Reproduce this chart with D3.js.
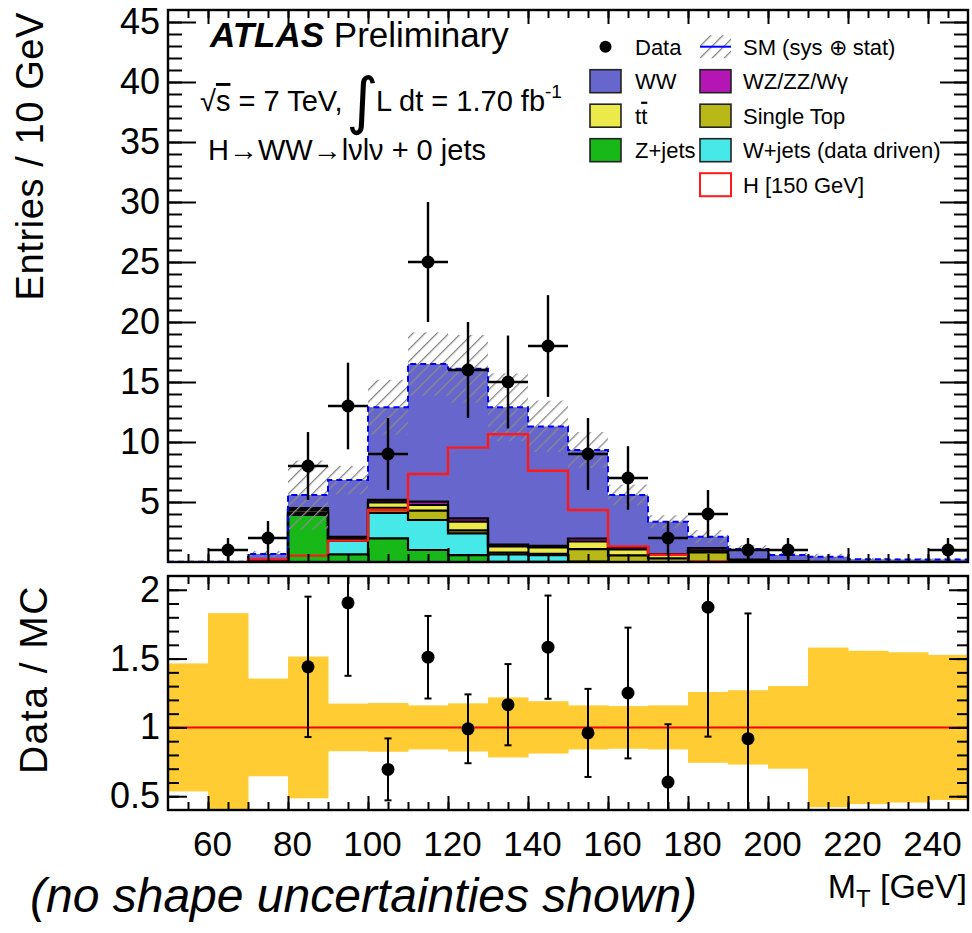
<!DOCTYPE html>
<html>
<head>
<meta charset="utf-8">
<script src="https://cdn.jsdelivr.net/npm/d3@7"></script>
<style>
  html, body { margin: 0; padding: 0; background: #fff; }
  svg { display: block; font-family: "Liberation Sans", Arial, Helvetica, sans-serif; }
</style>
</head>
<body>
<svg id="chart" width="972" height="933"></svg>
<script>
// ---- histogram content: 10 GeV bins in M_T ----
const binEdges   = [50,60,70,80,90,100,110,120,130,140,150,160,170,180,190,200,210,220,230,240,250];
const zJets      = [0,0,0.05,3.92,0.64,1.97,1.00,0.58,0.02,0.02,0,0,0,0,0,0,0,0,0,0];
const wJets      = [0,0,0,0.12,1.14,2.13,2.50,1.81,0.62,0.55,0.03,0,0,0,0,0,0,0,0,0];
const singleTop  = [0,0,0,0.10,0.05,0.42,0.78,0.25,0.15,0.10,1.05,0.55,0.30,0.80,0.10,0.02,0,0,0,0];
const ttbar      = [0,0,0,0.20,0.15,0.45,0.47,0.72,0.50,0.55,0.63,0.50,0.30,0.15,0.05,0.02,0,0,0,0];
const diboson    = [0,0,0,0.15,0.12,0.20,0.28,0.28,0.15,0.12,0.25,0.20,0.05,0.20,0.05,0.02,0.02,0,0,0];
const wwBkg      = [0.02,0.02,0.62,1.09,4.73,7.73,11.47,12.46,11.46,9.96,7.37,4.33,2.71,0.96,0.89,0.52,0.42,0.22,0.20,0.20];
const higgs150   = [0,0,0.22,0.53,1.78,4.33,7.33,9.53,10.64,7.61,4.33,1.30,0.60,0.05,0,0,0,0,0,0];
const smRelUnc   = [0.465,0.83,0.355,0.515,0.173,0.177,0.16,0.175,0.218,0.19,0.16,0.155,0.16,0.257,0.27,0.30,0.58,0.557,0.546,0.527];
const dataCounts = [0,1,2,8,13,9,25,16,15,18,9,7,2,4,1,1,0,0,0,1];
const dataErr    = [0,1,1.41,2.83,3.61,3,5,4,3.87,4.24,3,2.65,1.41,2,1,1,0,0,0,1];
const ratioVals  = [null,null,null,1.44,1.905,0.695,1.51,0.99,1.165,1.583,0.96,1.25,0.603,1.873,0.918,null,null,null,null,null];
const ratioErr   = [0,0,0,0.51,0.53,0.225,0.30,0.25,0.295,0.375,0.32,0.475,0.42,0.94,0.91,0,0,0,0,0];

// ---- axis labels ----
const xTickLabels      = [60,80,100,120,140,160,180,200,220,240];
const yMainTickLabels  = [5,10,15,20,25,30,35,40,45];
const yRatioTickLabels = [0.5,1,1.5,2];

// ---- stack order (bottom to top) and colours ----
const stackKeys   = ["zjets","wjets","stop","ttbar","vv","ww"];
const stackSeries = { zjets: zJets, wjets: wJets, stop: singleTop, ttbar: ttbar, vv: diboson, ww: wwBkg };
const stackColors = { zjets: "#17b817", wjets: "#47e8e8", stop: "#b8b818", ttbar: "#ecea4a", vv: "#b416b4", ww: "#6666cc" };

const svg = d3.select("#chart");
const left = 168, right = 968;
const mainTop = 10, mainBot = 562;
const ratTop = 576, ratBot = 810;

const x = d3.scaleLinear().domain([50, 250]).range([left, right]);
const yMain = d3.scaleLinear().domain([0, 46]).range([mainBot, mainTop]);
const yRat = d3.scaleLinear().domain([0.4, 2.1]).range([ratBot, ratTop]);

const nBins = binEdges.length - 1;

// defs: clips and hatch pattern
const defs = svg.append("defs");
defs.append("clipPath").attr("id", "clipMain")
  .append("rect").attr("x", left).attr("y", mainTop).attr("width", right - left).attr("height", mainBot - mainTop);
defs.append("clipPath").attr("id", "clipRat")
  .append("rect").attr("x", left).attr("y", ratTop).attr("width", right - left).attr("height", ratBot - ratTop);
const hatch = defs.append("pattern").attr("id", "hatch")
  .attr("patternUnits", "userSpaceOnUse").attr("width", 8.5).attr("height", 8.5)
  .attr("patternTransform", "rotate(45)");
hatch.append("line").attr("x1", 0).attr("y1", 0).attr("x2", 0).attr("y2", 8.5)
  .attr("stroke", "#8a8a8a").attr("stroke-width", 2.6);

// rows for the stack: one per edge, last edge repeats the final bin so the step closes
const rows = binEdges.map((e, i) => {
  const k = Math.min(i, nBins - 1);
  const r = { edge: e };
  stackKeys.forEach(key => r[key] = stackSeries[key][k]);
  return r;
});
const stacked = d3.stack().keys(stackKeys)(rows);
const totals = d3.range(nBins).map(i => stackKeys.reduce((s, k) => s + stackSeries[k][i], 0));

// ================= main panel =================
const gMain = svg.append("g").attr("clip-path", "url(#clipMain)");

const area = d3.area().curve(d3.curveStepAfter)
  .x(d => x(d.data.edge)).y0(d => yMain(d[0])).y1(d => yMain(d[1]));
const topLine = d3.line().curve(d3.curveStepAfter)
  .x(d => x(d.data.edge)).y(d => yMain(d[1]));

gMain.selectAll("path.layer").data(stacked).join("path")
  .attr("class", "layer")
  .attr("d", area)
  .attr("fill", d => stackColors[d.key]);

gMain.selectAll("path.edge").data(stacked.filter(s => s.key !== "ww")).join("path")
  .attr("class", "edge")
  .attr("d", topLine)
  .attr("fill", "none").attr("stroke", "#000").attr("stroke-width", 2.2);

// SM uncertainty band (hatched)
gMain.selectAll("rect.unc").data(d3.range(nBins)).join("rect")
  .attr("class", "unc")
  .attr("x", i => x(binEdges[i]))
  .attr("width", i => x(binEdges[i + 1]) - x(binEdges[i]))
  .attr("y", i => yMain(totals[i] * (1 + smRelUnc[i])))
  .attr("height", i => yMain(totals[i] * (1 - smRelUnc[i])) - yMain(totals[i] * (1 + smRelUnc[i])))
  .attr("fill", "url(#hatch)");

// SM total outline
gMain.append("path")
  .attr("d", topLine(stacked[stacked.length - 1]))
  .attr("fill", "none").attr("stroke", "#0000ff").attr("stroke-width", 2)
  .attr("stroke-dasharray", "6,4");

// Higgs signal outline (not stacked)
{
  const nz = d3.range(nBins).filter(i => higgs150[i] > 0);
  const a = nz[0], b = nz[nz.length - 1];
  const pts = [[binEdges[a], 0]];
  for (let i = a; i <= b; i++) pts.push([binEdges[i], higgs150[i]]);
  pts.push([binEdges[b + 1], higgs150[b]]);
  pts.push([binEdges[b + 1], 0]);
  gMain.append("path")
    .attr("d", d3.line().curve(d3.curveStepAfter).x(p => x(p[0])).y(p => yMain(p[1]))(pts))
    .attr("fill", "none").attr("stroke", "#ff1a1a").attr("stroke-width", 2.4);
}

// data points
const dataIdx = d3.range(nBins).filter(i => dataCounts[i] > 0);
const gData = gMain.append("g");
dataIdx.forEach(i => {
  const cx = x((binEdges[i] + binEdges[i + 1]) / 2);
  gData.append("line")
    .attr("x1", x(binEdges[i])).attr("x2", x(binEdges[i + 1]))
    .attr("y1", yMain(dataCounts[i])).attr("y2", yMain(dataCounts[i]))
    .attr("stroke", "#000").attr("stroke-width", 2.4);
  gData.append("line")
    .attr("x1", cx).attr("x2", cx)
    .attr("y1", yMain(dataCounts[i] + dataErr[i])).attr("y2", yMain(Math.max(0, dataCounts[i] - dataErr[i])))
    .attr("stroke", "#000").attr("stroke-width", 2.4);
  gData.append("circle").attr("cx", cx).attr("cy", yMain(dataCounts[i])).attr("r", 6.5).attr("fill", "#000");
});

// ================= ratio panel =================
const gRat = svg.append("g").attr("clip-path", "url(#clipRat)");
gRat.selectAll("rect.band").data(d3.range(nBins)).join("rect")
  .attr("class", "band")
  .attr("x", i => x(binEdges[i]))
  .attr("width", i => x(binEdges[i + 1]) - x(binEdges[i]) + 0.5)
  .attr("y", i => yRat(1 + smRelUnc[i]))
  .attr("height", i => yRat(1 - smRelUnc[i]) - yRat(1 + smRelUnc[i]))
  .attr("fill", "#ffcc33");
gRat.append("line")
  .attr("x1", left).attr("x2", right).attr("y1", yRat(1)).attr("y2", yRat(1))
  .attr("stroke", "#ff0000").attr("stroke-width", 2);
d3.range(nBins).filter(i => ratioVals[i] !== null).forEach(i => {
  const cx = x((binEdges[i] + binEdges[i + 1]) / 2);
  const hi = yRat(ratioVals[i] + ratioErr[i]), lo = yRat(ratioVals[i] - ratioErr[i]);
  gRat.append("line").attr("x1", cx).attr("x2", cx).attr("y1", hi).attr("y2", lo)
    .attr("stroke", "#000").attr("stroke-width", 2);
  [hi, lo].forEach(yy => gRat.append("line")
    .attr("x1", cx - 3.5).attr("x2", cx + 3.5).attr("y1", yy).attr("y2", yy)
    .attr("stroke", "#000").attr("stroke-width", 2));
  gRat.append("circle").attr("cx", cx).attr("cy", yRat(ratioVals[i])).attr("r", 6.5).attr("fill", "#000");
});

// ================= ticks =================
function tickSet(g, axis) {
  g.call(axis);
  g.select(".domain").remove();
  g.selectAll("line").attr("stroke", "#000").attr("stroke-width", 2);
  g.selectAll("text").remove();
}
const xMinor = d3.range(55, 250, 5);
const yMainMinor = d3.range(1, 46, 1);
const yRatMinor = d3.range(0.5, 2.05, 0.1).map(v => +v.toFixed(2));

// main panel
tickSet(svg.append("g").attr("transform", `translate(0,${mainBot})`), d3.axisBottom(x).tickValues(xMinor).tickSize(-8));
tickSet(svg.append("g").attr("transform", `translate(0,${mainBot})`), d3.axisBottom(x).tickValues(xTickLabels).tickSize(-14));
tickSet(svg.append("g").attr("transform", `translate(0,${mainTop})`), d3.axisTop(x).tickValues(xMinor).tickSize(-8));
tickSet(svg.append("g").attr("transform", `translate(0,${mainTop})`), d3.axisTop(x).tickValues(xTickLabels).tickSize(-14));
tickSet(svg.append("g").attr("transform", `translate(${left},0)`), d3.axisLeft(yMain).tickValues(yMainMinor).tickSize(-14));
tickSet(svg.append("g").attr("transform", `translate(${left},0)`), d3.axisLeft(yMain).tickValues(yMainTickLabels).tickSize(-28));
tickSet(svg.append("g").attr("transform", `translate(${right},0)`), d3.axisRight(yMain).tickValues(yMainMinor).tickSize(-14));
tickSet(svg.append("g").attr("transform", `translate(${right},0)`), d3.axisRight(yMain).tickValues(yMainTickLabels).tickSize(-28));
// ratio panel
tickSet(svg.append("g").attr("transform", `translate(0,${ratBot})`), d3.axisBottom(x).tickValues(xMinor).tickSize(-8));
tickSet(svg.append("g").attr("transform", `translate(0,${ratBot})`), d3.axisBottom(x).tickValues(xTickLabels).tickSize(-14));
tickSet(svg.append("g").attr("transform", `translate(0,${ratTop})`), d3.axisTop(x).tickValues(xMinor).tickSize(-8));
tickSet(svg.append("g").attr("transform", `translate(0,${ratTop})`), d3.axisTop(x).tickValues(xTickLabels).tickSize(-14));
tickSet(svg.append("g").attr("transform", `translate(${left},0)`), d3.axisLeft(yRat).tickValues(yRatMinor).tickSize(-11));
tickSet(svg.append("g").attr("transform", `translate(${left},0)`), d3.axisLeft(yRat).tickValues(yRatioTickLabels).tickSize(-19));
tickSet(svg.append("g").attr("transform", `translate(${right},0)`), d3.axisRight(yRat).tickValues(yRatMinor).tickSize(-11));
tickSet(svg.append("g").attr("transform", `translate(${right},0)`), d3.axisRight(yRat).tickValues(yRatioTickLabels).tickSize(-19));

// tick labels
function labelSet(g, axis, size) {
  g.call(axis);
  g.select(".domain").remove();
  g.selectAll("line").remove();
  g.attr("font-family", null).attr("font-size", null);
  g.selectAll("text").attr("font-size", size).attr("fill", "#000");
}
labelSet(svg.append("g").attr("transform", `translate(${left},0)`),
  d3.axisLeft(yMain).tickValues(yMainTickLabels).tickSize(0).tickPadding(8).tickFormat(d => String(d)), 36);
labelSet(svg.append("g").attr("transform", `translate(${left},0)`),
  d3.axisLeft(yRat).tickValues(yRatioTickLabels).tickSize(0).tickPadding(8).tickFormat(d => String(d)), 36);
labelSet(svg.append("g").attr("transform", `translate(4,${ratBot})`),
  d3.axisBottom(x).tickValues(xTickLabels).tickSize(0).tickPadding(21).tickFormat(d => String(d)), 35);

// frames
[[mainTop, mainBot], [ratTop, ratBot]].forEach(([t, b]) =>
  svg.append("rect").attr("x", left).attr("y", t).attr("width", right - left).attr("height", b - t)
    .attr("fill", "none").attr("stroke", "#000").attr("stroke-width", 2.4));

// ================= titles =================
svg.append("text").attr("transform", "translate(43,12) rotate(-90)")
  .attr("text-anchor", "end").attr("font-size", 38).attr("letter-spacing", 0.6).text("Entries / 10 GeV");
svg.append("text").attr("transform", "translate(47,585) rotate(-90)")
  .attr("text-anchor", "end").attr("font-size", 39).attr("letter-spacing", 1.5).text("Data / MC");

const mt = svg.append("text").attr("x", 967).attr("y", 898).attr("text-anchor", "end").attr("font-size", 34);
mt.append("tspan").text("M");
mt.append("tspan").attr("font-size", 24).attr("dy", 9).text("T");
mt.append("tspan").attr("dy", -9).text(" [GeV]");

svg.append("text").attr("x", 30).attr("y", 912).attr("font-size", 48).attr("font-style", "italic")
  .text("(no shape uncertainties shown)");

// ATLAS label block
const atl = svg.append("text").attr("x", 210).attr("y", 47).attr("font-size", 35);
atl.append("tspan").attr("font-weight", "bold").attr("font-style", "italic").text("ATLAS");
atl.append("tspan").text(" Preliminary");

const l2 = svg.append("text").attr("x", 200).attr("y", 111).attr("font-size", 29);
l2.append("tspan").text("√");
l2.append("tspan").attr("text-decoration", "overline").text("s");
l2.append("tspan").text(" = 7 TeV,");
svg.append("text").attr("x", 346).attr("y", 122).attr("font-size", 62).attr("font-family", "DejaVu Sans").text("∫");
const l2b = svg.append("text").attr("x", 376).attr("y", 111).attr("font-size", 29);
l2b.append("tspan").text("L dt = 1.70 fb");
l2b.append("tspan").attr("font-size", 19).attr("dy", -13).text("-1");

svg.append("text").attr("x", 208).attr("y", 160).attr("font-size", 29)
  .text("H→WW→lνlν + 0 jets");

// ================= legend =================
const legendLeft = [
  { label: "Data", kind: "data" },
  { label: "WW", kind: "box", color: stackColors.ww },
  { label: "tt", kind: "box", color: stackColors.ttbar, bar: true },
  { label: "Z+jets", kind: "box", color: stackColors.zjets }
];
const legendRight = [
  { label: "SM (sys ⊕ stat)", kind: "band" },
  { label: "WZ/ZZ/Wγ", kind: "box", color: stackColors.vv },
  { label: "Single Top", kind: "box", color: stackColors.stop },
  { label: "W+jets (data driven)", kind: "box", color: stackColors.wjets },
  { label: "H [150 GeV]", kind: "line" }
];
function drawLegend(items, bx, tx) {
  items.forEach((it, i) => {
    const cy = 46.7 + i * 34.5;
    const g = svg.append("g");
    if (it.kind === "data") {
      g.append("circle").attr("cx", bx + 15.5).attr("cy", cy).attr("r", 6).attr("fill", "#000");
    } else if (it.kind === "box") {
      g.append("rect").attr("x", bx).attr("y", cy - 11.5).attr("width", 31).attr("height", 23)
        .attr("fill", it.color).attr("stroke", "#222").attr("stroke-width", 1.6);
    } else if (it.kind === "band") {
      g.append("rect").attr("x", bx).attr("y", cy - 11.5).attr("width", 31).attr("height", 23)
        .attr("fill", "url(#hatch)");
      g.append("line").attr("x1", bx).attr("x2", bx + 31).attr("y1", cy).attr("y2", cy)
        .attr("stroke", "#0000ff").attr("stroke-width", 2);
    } else if (it.kind === "line") {
      g.append("rect").attr("x", bx).attr("y", cy - 11.5).attr("width", 31).attr("height", 23)
        .attr("fill", "#fff").attr("stroke", "#ff1a1a").attr("stroke-width", 2);
    }
    const t = g.append("text").attr("x", tx).attr("y", cy + 8).attr("font-size", 22);
    if (it.bar) {
      t.append("tspan").text("t");
      t.append("tspan").attr("text-decoration", "overline").text("t");
    } else {
      t.text(it.label);
    }
  });
}
drawLegend(legendLeft, 590, 635);
drawLegend(legendRight, 700, 743);
</script>
</body>
</html>
